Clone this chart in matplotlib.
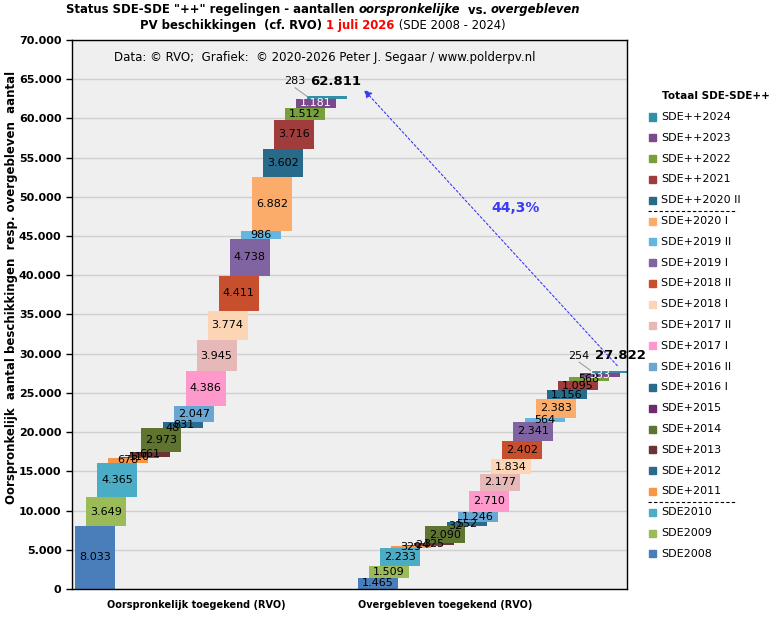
import matplotlib
matplotlib.use("Agg")
import matplotlib.pyplot as plt
from matplotlib.patches import Rectangle
from matplotlib.lines import Line2D
from matplotlib.ticker import FuncFormatter, MultipleLocator
import numpy as np

# regelingen, van onder naar boven gestapeld
regelingen = ['SDE2008', 'SDE2009', 'SDE2010', 'SDE+2011', 'SDE+2012', 'SDE+2013',
              'SDE+2014', 'SDE+2015', 'SDE+2016 I', 'SDE+2016 II', 'SDE+2017 I',
              'SDE+2017 II', 'SDE+2018 I', 'SDE+2018 II', 'SDE+2019 I', 'SDE+2019 II',
              'SDE+2020 I', 'SDE++2020 II', 'SDE++2021', 'SDE++2022', 'SDE++2023',
              'SDE++2024']
oorspronkelijk = [8033, 3649, 4365, 678, 110, 661, 2973, 48, 831, 2047, 4386,
                  3945, 3774, 4411, 4738, 986, 6882, 3602, 3716, 1512, 1181, 283]
overgebleven = [1465, 1509, 2233, 329, 24, 325, 2090, 32, 552, 1246, 2710,
                2177, 1834, 2402, 2341, 564, 2383, 1156, 1095, 568, 533, 254]
kleuren = ['#4A7EBB', '#9BBB59', '#4BACC6', '#F79646', '#2A6A8C', '#6B3333',
           '#5F7430', '#6E2C6E', '#2A6A8C', '#6AA6D4', '#FF99CC', '#E6B9B8',
           '#FCD5B5', '#C84F2E', '#8064A2', '#65B5E0', '#FBAC6B', '#276A8A',
           '#A03C3C', '#77A03B', '#7B4A8C', '#3190A8']
groepen = ['Oorspronkelijk toegekend (RVO)', 'Overgebleven toegekend (RVO)']

W, H = 776, 618


def nl(v):
    return f"{int(round(v)):,}".replace(",", ".")


fig = plt.figure(figsize=(W / 100, H / 100), dpi=100)
ax = fig.add_axes([72 / W, 1 - 589 / H, 555 / W, 549 / H])
ax.set_facecolor('#EFEFEF')
ax.set_xlim(-3, 552)
ax.set_ylim(0, 70000)
ax.yaxis.set_major_locator(MultipleLocator(5000))
ax.yaxis.set_major_formatter(FuncFormatter(lambda v, p: nl(v)))
ax.grid(axis='y', color='#D0D0D0', lw=1)
ax.set_axisbelow(True)
for s in ax.spines.values():
    s.set_color('black')
    s.set_linewidth(1)
ax.tick_params(axis='y', labelsize=8, length=4, width=1)
for lab in ax.get_yticklabels():
    lab.set_fontweight('bold')
ax.set_xticks([121, 370])
ax.set_xticklabels(groepen, fontsize=7, fontweight='bold')
ax.tick_params(axis='x', length=0, pad=8)

breedte = 40
starts = [0, 283]
stap = [11.05, 11.1]
totalen = []
for g, vals in enumerate([oorspronkelijk, overgebleven]):
    xs = starts[g] + np.arange(len(vals)) * stap[g]
    bottoms = np.concatenate([[0], np.cumsum(vals)[:-1]])
    ax.bar(xs, vals, bottom=bottoms, width=breedte, align='edge', color=kleuren)
    for i, (x, b, v) in enumerate(zip(xs, bottoms, vals)):
        if i == len(vals) - 1:
            # laatste regeling: label links boven met lijntje
            ax.plot([x - 12, x], [b + v + 1100, b + v], color='#A0A0A0', lw=0.8)
            ax.text(x - 12, b + v + 1900, nl(v), ha='center', va='center', fontsize=8)
        else:
            kleur = 'white' if regelingen[i] == 'SDE++2023' else 'black'
            ax.text(x + breedte / 2, b + v / 2, nl(v), ha='center', va='center',
                    fontsize=8, color=kleur)
    tot = sum(vals)
    totalen.append(tot)
    ax.text(xs[-1] + 29, tot + 1900, nl(tot), ha='center', va='center',
            fontsize=9.5, fontweight='bold')

# pijl van overgebleven naar oorspronkelijk
ax.annotate('', xy=(starts[0] + 21 * stap[0] + 55, totalen[0] + 1100),
            xytext=(starts[1] + 21 * stap[1] + 28, totalen[1] + 400),
            arrowprops=dict(arrowstyle='-|>', color='#3B3BF5', lw=0.8,
                            linestyle=(0, (2, 2)), mutation_scale=12))
pct = totalen[1] / totalen[0] * 100
ax.text(441, 48600, f"{pct:.1f}%".replace('.', ','), ha='center', va='center',
        fontsize=10, fontweight='bold', color='#3B3BF5')
ax.text(250, 67800, 'Data: © RVO;  Grafiek:  © 2020-2026 Peter J. Segaar / www.polderpv.nl',
        ha='center', va='center', fontsize=8.5)

fig.text(12 / W, 1 - 287 / H,
         'Oorspronkelijk  aantal beschikkingen  resp. overgebleven  aantal',
         rotation=90, ha='center', va='center', fontsize=8.5, fontweight='bold')


def regel(y, stukken, cx=323):
    r = fig.canvas.get_renderer()
    objs = [fig.text(0, 1 - y / H, s, va='center', ha='left', **kw) for s, kw in stukken]
    ws = [t.get_window_extent(r).width for t in objs]
    x = cx - sum(ws) / 2
    for t, w in zip(objs, ws):
        t.set_x(x / W)
        x += w


fs = 8.4
b = dict(fontsize=fs, fontweight='bold')
bi = dict(fontsize=fs, fontweight='bold', style='italic')
regel(10, [('Status SDE-SDE "++" regelingen - aantallen ', b), ('oorspronkelijke', bi),
           ('  vs. ', b), ('overgebleven', bi)])
regel(26, [('PV beschikkingen  (cf. RVO) ', b), ('1 juli 2026', dict(b, color='#FF0000')),
           (' (SDE 2008 - 2024)', dict(fontsize=fs))])

# legenda
fig.text(716 / W, 1 - 96 / H, 'Totaal SDE-SDE++', ha='center', va='center',
         fontsize=7.5, fontweight='bold')
y = 117
for naam, kl in zip(regelingen[::-1], kleuren[::-1]):
    fig.patches.append(Rectangle(((649) / W, 1 - (y + 3.5) / H), 7 / W, 7 / H,
                                 transform=fig.transFigure, color=kl))
    fig.text(661 / W, 1 - y / H, naam, ha='left', va='center', fontsize=8)
    if naam in ('SDE++2020 II', 'SDE+2011'):
        fig.lines.append(Line2D([648 / W, 737 / W], [1 - (y + 11) / H] * 2,
                                transform=fig.transFigure, color='black', lw=0.8,
                                linestyle=(0, (3, 2))))
    y += 20.8

fig.savefig('out.png', dpi=100)
